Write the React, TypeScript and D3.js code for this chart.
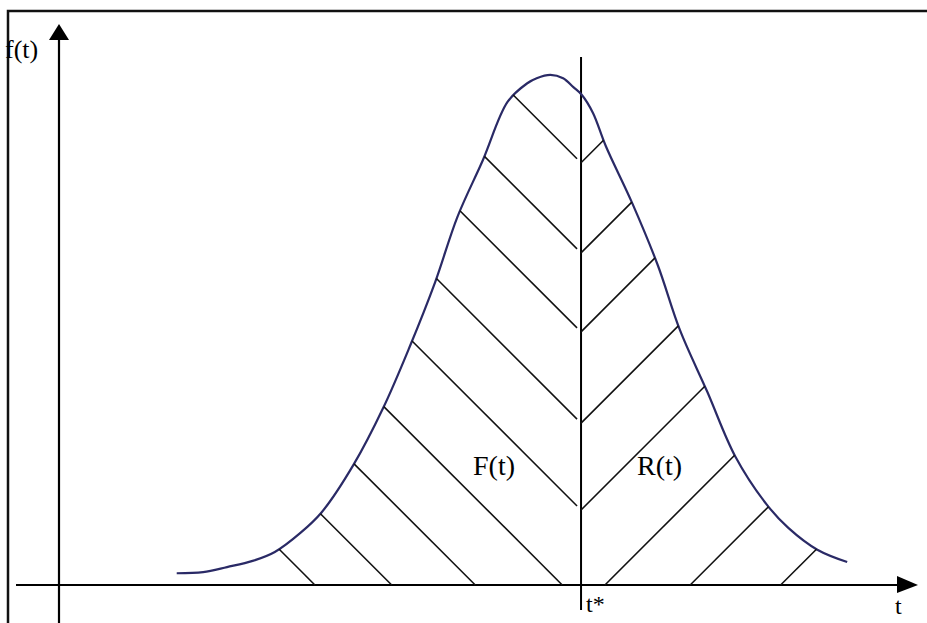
import React, { useRef, useEffect } from 'react';
import * as d3 from 'd3';

// density curve f(t) (t and f in chart units 0..100)
const curveT = [13.8, 16.9, 19.7, 22.7, 25.3, 28.3, 30.8, 34.5, 38.0, 41.1, 44.1, 46.7, 49.7, 52.6, 54.9, 56.0, 57.6, 59.1, 60.3, 61.3, 62.6, 64.1, 67.2, 70.2, 72.8, 76.0, 79.3, 83.0, 85.5, 88.9, 92.4];
const curveF = [2.1, 2.3, 3.2, 4.3, 5.9, 9.3, 13.0, 21.4, 31.6, 42.5, 54.1, 65.7, 75.9, 86.3, 89.6, 90.5, 91.1, 90.5, 88.9, 87.5, 84.3, 78.4, 68.2, 57.1, 45.5, 34.5, 22.9, 14.3, 10.2, 6.3, 4.1];

const tStar = 61.2;

// hatch lines: where they start on the t axis, or on the t* line (f value)
const leftHatchOnAxis = [30.0, 39.0, 48.8, 59.0];
const rightHatchOnAxis = [64.0, 74.0, 84.6];
const hatchOnTStar = [13.4, 28.9, 45.2, 59.3, 75.4];

const labels = { yAxis: 'f(t)', xAxis: 't', tStar: 't*', left: 'F(t)', right: 'R(t)' };

const W = 927;
const H = 623;
const serif = '"Liberation Serif", "Times New Roman", serif';

const Chart = () => {
  const svgRef = useRef<SVGSVGElement>(null);

  useEffect(() => {
    const svg = d3.select(svgRef.current);
    svg.selectAll('*').remove();
    svg.attr('width', W).attr('height', H);

    const x = d3.scaleLinear().domain([0, 100]).range([59, 912]);
    const y = d3.scaleLinear().domain([0, 100]).range([585, 25]);

    // frame (top and left edges)
    svg.append('path')
      .attr('d', `M8,${H} L8,11 L${W},11`)
      .attr('fill', 'none')
      .attr('stroke', '#111')
      .attr('stroke-width', 2.5);

    // axes
    svg.append('line')
      .attr('x1', 16).attr('x2', 900)
      .attr('y1', y(0)).attr('y2', y(0))
      .attr('stroke', '#000').attr('stroke-width', 2);
    svg.append('line')
      .attr('x1', x(0)).attr('x2', x(0))
      .attr('y1', H).attr('y2', 36)
      .attr('stroke', '#000').attr('stroke-width', 2.2);
    // arrow heads
    svg.append('path')
      .attr('d', `M897,${y(0) - 9} L918,${y(0)} L897,${y(0) + 8} Z`)
      .attr('fill', '#000');
    svg.append('path')
      .attr('d', `M${x(0) - 10},40 L${x(0)},24 L${x(0) + 10},40 Z`)
      .attr('fill', '#000');

    // t* line
    svg.append('line')
      .attr('x1', x(tStar)).attr('x2', x(tStar))
      .attr('y1', 57).attr('y2', 610)
      .attr('stroke', '#000').attr('stroke-width', 2);

    // curve
    const pts: [number, number][] = curveT.map((t, i) => [t, curveF[i]]);
    const line = d3.line<[number, number]>()
      .x(d => x(d[0]))
      .y(d => y(d[1]))
      .curve(d3.curveCatmullRom);
    const curvePath = svg.append('path')
      .datum(pts)
      .attr('d', line)
      .attr('fill', 'none')
      .attr('stroke', '#2a2a66')
      .attr('stroke-width', 2.2);

    // sample the rendered curve to find where hatch lines hit it
    const node = curvePath.node() as SVGPathElement;
    const len = node.getTotalLength();
    const poly: [number, number][] = d3.range(0, 401).map(i => {
      const p = node.getPointAtLength((len * i) / 400);
      return [p.x, p.y];
    });
    const hit = (px: number, py: number, dx: number, dy: number) => {
      let best = Infinity;
      for (let i = 0; i < poly.length - 1; i++) {
        const [ax, ay] = poly[i];
        const [bx, by] = poly[i + 1];
        const ex = bx - ax, ey = by - ay;
        const den = dx * ey - dy * ex;
        if (Math.abs(den) < 1e-9) continue;
        const s = ((ax - px) * ey - (ay - py) * ex) / den;
        const u = ((ax - px) * dy - (ay - py) * dx) / den;
        if (s > 0 && u >= 0 && u <= 1 && s < best) best = s;
      }
      return [px + dx * best, py + dy * best];
    };

    const hatches: { x0: number; y0: number; dir: number }[] = [];
    leftHatchOnAxis.forEach(t => hatches.push({ x0: x(t), y0: y(0), dir: -1 }));
    rightHatchOnAxis.forEach(t => hatches.push({ x0: x(t), y0: y(0), dir: 1 }));
    hatchOnTStar.forEach(f => {
      hatches.push({ x0: x(tStar) - 4, y0: y(f) - 4, dir: -1 });
      hatches.push({ x0: x(tStar), y0: y(f), dir: 1 });
    });

    svg.append('g')
      .selectAll('line')
      .data(hatches)
      .join('line')
      .each(function (d) {
        const [x1, y1] = hit(d.x0, d.y0, d.dir, -1);
        d3.select(this)
          .attr('x1', d.x0).attr('y1', d.y0)
          .attr('x2', x1).attr('y2', y1);
      })
      .attr('stroke', '#111')
      .attr('stroke-width', 1.6);

    // texts
    const text = (tx: number, ty: number, s: string, size: number, anchor = 'start') =>
      svg.append('text')
        .attr('x', tx).attr('y', ty)
        .attr('text-anchor', anchor)
        .attr('font-family', serif)
        .attr('font-size', size)
        .attr('fill', '#000')
        .text(s);

    text(5, 58, labels.yAxis, 26);
    text(473, 475, labels.left, 28);
    text(637, 475, labels.right, 28);
    text(586, 612, labels.tStar, 24);
    text(895, 614, labels.xAxis, 24);
  }, []);

  return <svg ref={svgRef} style={{ display: 'block' }}></svg>;
};

export default function App() {
  return (
    <div style={{ position: 'fixed', left: 0, top: 0, background: '#fff' }}>
      <Chart />
    </div>
  );
}
